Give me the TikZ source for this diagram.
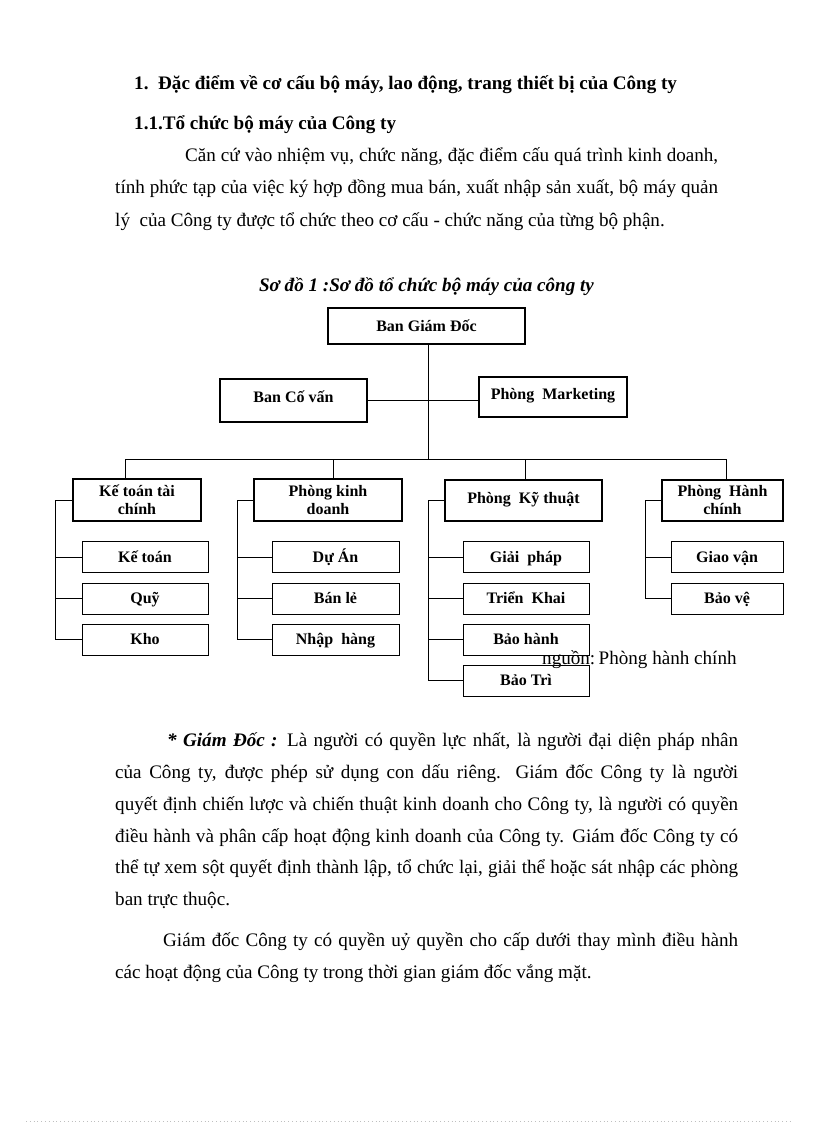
\documentclass[tikz,border=0pt]{standalone}
\usepackage{fontspec}
\setmainfont{Liberation Serif}
\newcommand{\bodysize}{\fontsize{19.1}{22}\selectfont}
\newcommand{\boxsize}{\fontsize{16}{18}\selectfont}
\newcommand{\jline}[2]{\makebox[#1pt][s]{#2}}
\begin{document}
\begin{tikzpicture}[x=1pt,y=-1pt,
  txt/.style={anchor=base west, inner sep=0pt, font=\bodysize},
  txtb/.style={txt, font=\bodysize\bfseries},
  topbox/.style={draw, line width=1.5pt, inner sep=0pt, align=center, font=\boxsize\bfseries},
  subbox/.style={draw, line width=0.9pt, inner sep=0pt, align=center, font=\boxsize\bfseries,
    minimum width=126pt, minimum height=31pt, text height=13pt, text depth=3pt},
  conn/.style={draw, line width=0.9pt}]
\fill[white] (0,0) rectangle (816,1123);
\useasboundingbox (0,0) rectangle (816,1123);

% headings
\node[txtb] (h1n) at (134,90) {1.};
\node[txtb] (h1) at (158,90) {Đặc điểm về cơ cấu bộ máy, lao động, trang thiết bị của Công ty};
\node[txtb] (h2) at (134,130) {1.1.Tổ chức bộ máy của Công ty};

% paragraph 1
\node[txt] (p1a) at (185,162) {\jline{533}{Căn cứ vào nhiệm vụ, chức năng, đặc điểm cấu quá trình kinh doanh,}};
\node[txt] (p1b) at (115,194) {\jline{603}{tính phức tạp của việc ký hợp đồng mua bán, xuất nhập sản xuất, bộ máy quản}};
\node[txt] (p1c) at (115,226) {lý\ \ của Công ty được tổ chức theo cơ cấu - chức năng của từng bộ phận.};

% title
\node[anchor=base, inner sep=0pt, font=\bodysize\bfseries\itshape] (title) at (426.5,291) {Sơ đồ 1 :Sơ đồ tổ chức bộ máy của công ty};

% top boxes
\node[topbox, minimum width=197pt, minimum height=36pt, text height=14pt, text depth=4pt] (bgd) at (426.5,326) {Ban Giám Đốc};
\node[topbox, minimum width=147pt, minimum height=43pt, text height=13pt, text depth=9pt] (bcv) at (293.5,400.5) {Ban Cố vấn};
\node[topbox, minimum width=148pt, minimum height=40pt, text height=13pt, text depth=9pt] (pmk) at (553,397) {Phòng\ \ Marketing};

\node[topbox, minimum width=128pt, minimum height=42pt] (ktc) at (137,500) {Kế toán tài\\chính};
\node[topbox, minimum width=148pt, minimum height=42pt] (pkd) at (328,500) {Phòng kinh\\doanh};
\node[topbox, minimum width=157pt, minimum height=41pt, text height=13pt, text depth=8pt] (pkt) at (523.5,500.5) {Phòng\ \ Kỹ thuật};
\node[topbox, minimum width=121pt, minimum height=41pt] (phc) at (722.5,500.5) {Phòng\ \ Hành\\chính};

% sub boxes column 1
\node[subbox] (kt) at (145,557) {Kế toán};
\node[subbox] (quy) at (145,598.5) {Quỹ};
\node[subbox] (kho) at (145,639.5) {Kho};
% column 2
\node[subbox, minimum width=127pt] (da) at (335.5,557) {Dự Án};
\node[subbox, minimum width=127pt] (bl) at (335.5,598.5) {Bán lẻ};
\node[subbox, minimum width=127pt] (nh) at (335.5,639.5) {Nhập\ \ hàng};
% column 3
\node[subbox] (gp) at (526,557) {Giải\ \ pháp};
\node[subbox] (tk) at (526,598.5) {Triển\ \ Khai};
\node[subbox] (bh) at (526,639.5) {Bảo hành};
\node[subbox] (bt) at (526,680.5) {Bảo Trì};
% column 4
\node[subbox, minimum width=112pt] (gv) at (727,557) {Giao vận};
\node[subbox, minimum width=112pt] (bv) at (727,598.5) {Bảo vệ};

% connectors
\coordinate (v) at (428,459);
\coordinate (b1) at (125,459);
\coordinate (b2) at (333,459);
\coordinate (b3) at (525,459);
\coordinate (b4) at (726,459);
\draw[conn] (v |- bgd.south) -- (v);
\draw[conn] (bcv.east) -- (bcv.east -| pmk.west);
\draw[conn] (b1) -- (b4);
\draw[conn] (b1) -- (b1 |- ktc.north);
\draw[conn] (b2) -- (b2 |- pkd.north);
\draw[conn] (b3) -- (b3 |- pkt.north);
\draw[conn] (b4) -- (b4 |- phc.north);

\coordinate (s1) at (55,0);
\coordinate (s2) at (237,0);
\coordinate (s3) at (428,0);
\coordinate (s4) at (645,0);
\draw[conn] (ktc.west) -- (s1 |- ktc.west) -- (s1 |- kho.west) -- (kho.west);
\draw[conn] (s1 |- kt.west) -- (kt.west);
\draw[conn] (s1 |- quy.west) -- (quy.west);
\draw[conn] (pkd.west) -- (s2 |- pkd.west) -- (s2 |- nh.west) -- (nh.west);
\draw[conn] (s2 |- da.west) -- (da.west);
\draw[conn] (s2 |- bl.west) -- (bl.west);
\draw[conn] (pkt.west) -- (s3 |- pkt.west) -- (s3 |- bt.west) -- (bt.west);
\draw[conn] (s3 |- gp.west) -- (gp.west);
\draw[conn] (s3 |- tk.west) -- (tk.west);
\draw[conn] (s3 |- bh.west) -- (bh.west);
\draw[conn] (phc.west) -- (s4 |- phc.west) -- (s4 |- bv.west) -- (bv.west);
\draw[conn] (s4 |- gv.west) -- (gv.west);

\node[txt] (src) at (542,664) {nguồn:\hspace{0.18em}Phòng hành chính};

% paragraph 2
\node[txt] (q1) at (167,746) {\jline{571}{\textbf{\textit{* Giám Đốc :}} Là người có quyền lực nhất, là người đại diện pháp nhân}};
\node[txt] (q2) at (115,778) {\jline{623}{của Công ty, được phép sử dụng con dấu riêng. Giám đốc Công ty là người}};
\node[txt] (q3) at (115,810) {\jline{623}{quyết định chiến lược và chiến thuật kinh doanh cho Công ty, là người có quyền}};
\node[txt] (q4) at (115,842) {\jline{623}{điều hành và phân cấp hoạt động kinh doanh của Công ty. Giám đốc Công ty có}};
\node[txt] (q5) at (115,873) {\jline{623}{thể tự xem sột quyết định thành lập, tổ chức lại, giải thể hoặc sát nhập các phòng}};
\node[txt] (q6) at (115,905) {ban trực thuộc.};
\node[txt] (q7) at (163,946) {\jline{575}{Giám đốc Công ty có quyền uỷ quyền cho cấp dưới thay mình điều hành}};
\node[txt] (q8) at (115,978) {các hoạt động của Công ty trong thời gian giám đốc vắng mặt.};

% faint dotted page edge
\draw[black!25, line width=0.6pt, dash pattern=on 0.8pt off 3pt] (26,1121) -- (792,1121);
\end{tikzpicture}
\end{document}
